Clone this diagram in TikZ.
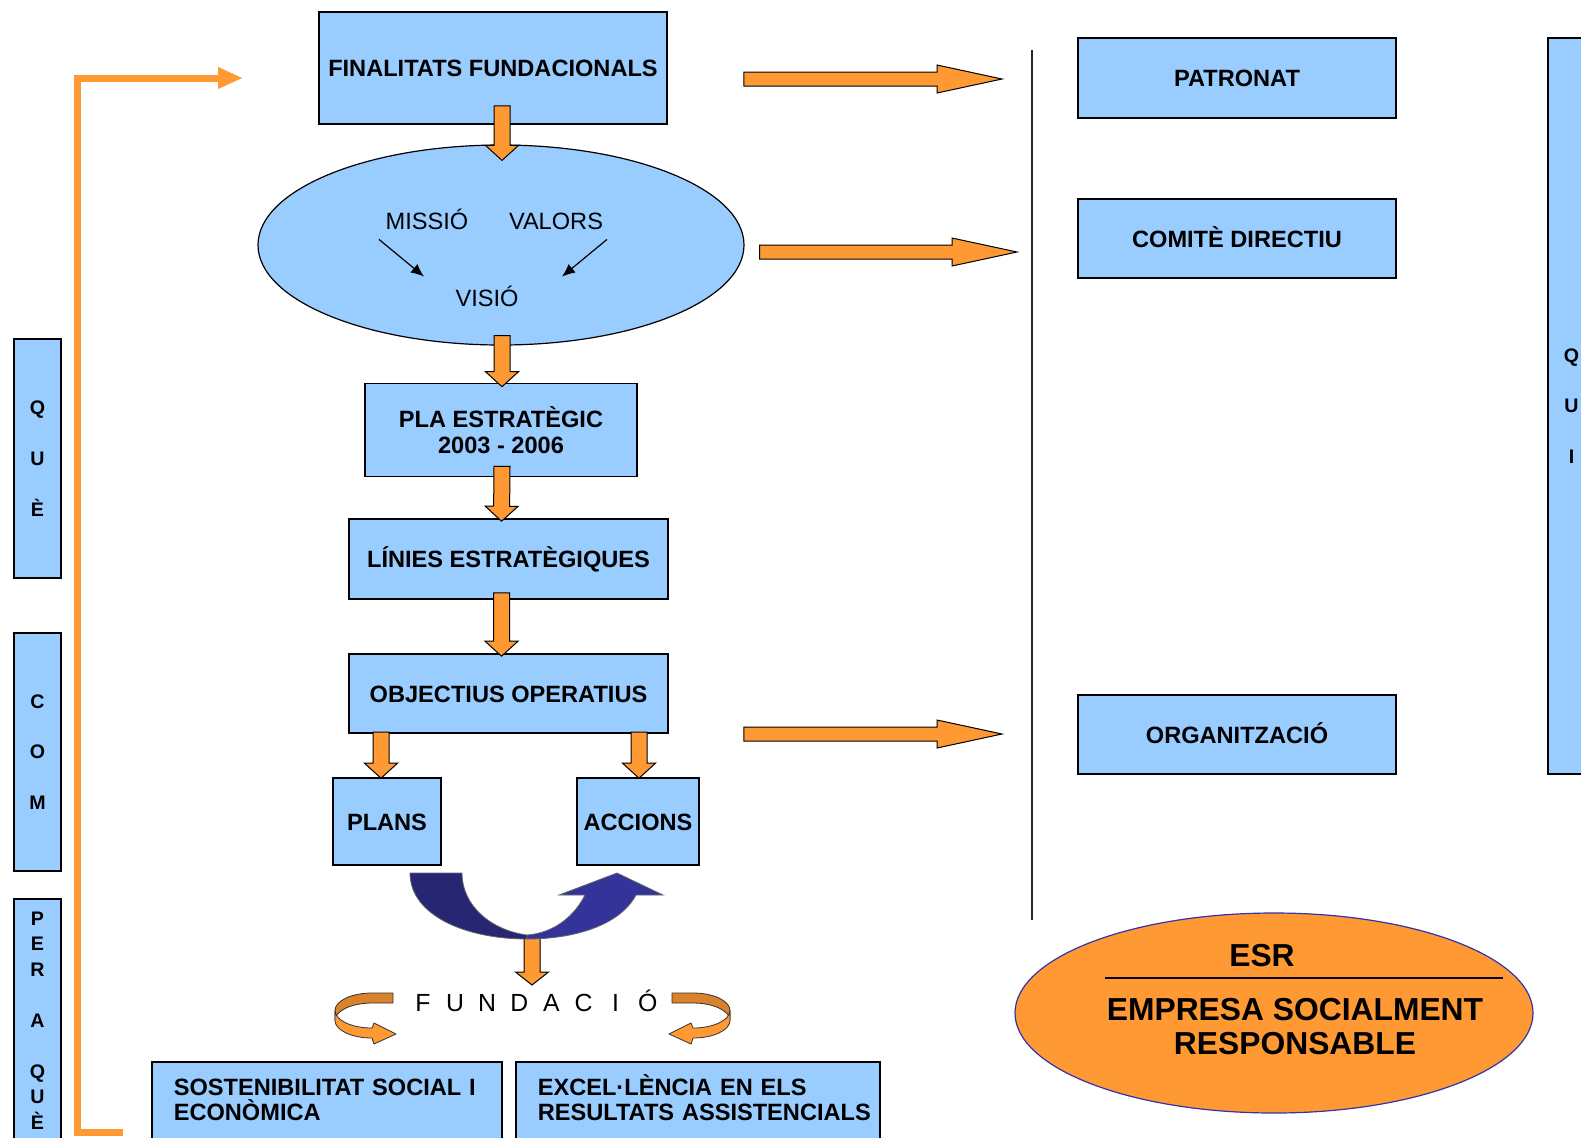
\documentclass[tikz,border=0pt]{standalone}
\usepackage{fontspec}
\setmainfont{Liberation Sans}
\usetikzlibrary{calc,shapes.geometric,arrows.meta}

\definecolor{boxblue}{HTML}{99CCFF}
\definecolor{orng}{HTML}{FF9933}
\definecolor{orngdark}{HTML}{D9822B}
\definecolor{navydark}{HTML}{262673}
\definecolor{navy}{HTML}{333399}
\definecolor{esrline}{HTML}{3333AA}

% fat orange arrow: shaft half width, head half width, head length, from, to
\newcommand{\blockarrow}[5]{%
  \path #4 coordinate (ba-s);
  \path #5 coordinate (ba-e);
  \path ($(ba-e)!#3!(ba-s)$) coordinate (ba-h);
  \filldraw[fill=orng,draw=black,line width=0.5pt,line join=miter]
    ($(ba-s)!#1!90:(ba-e)$) -- ($(ba-h)!#1!90:(ba-e)$) -- ($(ba-h)!#2!90:(ba-e)$)
    -- (ba-e) -- ($(ba-h)!#2!-90:(ba-e)$) -- ($(ba-h)!#1!-90:(ba-e)$)
    -- ($(ba-s)!#1!-90:(ba-e)$) -- cycle;
}

\begin{document}
\begin{tikzpicture}[x=0.5pt,y=-0.5pt,
  box/.style={draw,line width=0.8pt,fill=boxblue,inner sep=0pt,
    font=\bfseries\fontsize{11.8}{13}\selectfont},
  oneline/.style={text height=8.5pt,text depth=0pt},
  sidebox/.style={draw,line width=0.8pt,fill=boxblue,inner sep=0pt,
    minimum width=23.5pt,align=center,
    font=\bfseries\fontsize{9.8}{12.75}\selectfont},
  bottombox/.style={draw,line width=0.8pt,fill=boxblue,anchor=north west,
    inner xsep=11pt,inner ysep=0pt,align=left,minimum height=38.5pt,
    font=\bfseries\fontsize{11.8}{12.5}\selectfont},
  ovaltext/.style={inner sep=0pt,text height=8.5pt,text depth=0pt,
    font=\fontsize{11.8}{13}\selectfont},
  fundletter/.style={anchor=base,inner sep=0pt,font=\fontsize{12.4}{13}\selectfont},
  ring/.style={draw=black!80,line width=0.4pt,line join=round}]

  \useasboundingbox (0,0) rectangle (1581,1137);
  \clip (0,0) rectangle (1581,1137);

  % left column
  \node[box,oneline,minimum width=174pt,minimum height=56pt] (fin) at (493,68) {FINALITATS FUNDACIONALS};
  \node[draw,ellipse,line width=0.6pt,fill=boxblue,minimum width=243pt,minimum height=100pt] (vmv) at (501,245) {};
  \node[ovaltext] (missio) at (427,221) {MISSIÓ};
  \node[ovaltext] (valors) at (556,221) {VALORS};
  \node[ovaltext] (visio) at (487,298) {VISIÓ};
  \draw[->,>={Latex[length=6.5pt,width=5.5pt]},line width=0.6pt] ($(missio.south)+(-48,9.5)$) -- ($(visio.north)+(-63,-12.5)$);
  \draw[->,>={Latex[length=6.5pt,width=5.5pt]},line width=0.6pt] ($(valors.south)+(51,9.5)$) -- ($(visio.north)+(75,-12.5)$);
  \node[box,align=center,minimum width=136pt,minimum height=46.5pt] (pla) at (501,430) {PLA ESTRATÈGIC\\2003 - 2006};
  \node[box,oneline,minimum width=159.5pt,minimum height=40pt] (lin) at (508.5,559) {LÍNIES ESTRATÈGIQUES};
  \node[box,oneline,minimum width=159.5pt,minimum height=39.5pt] (obj) at (508.5,693.5) {OBJECTIUS OPERATIUS};
  \node[box,oneline,minimum width=54pt,minimum height=43.5pt] (plans) at (387,821.5) {PLANS};
  \node[box,oneline,minimum width=61pt,minimum height=43.5pt] (acc) at (638,821.5) {ACCIONS};

  % right column
  \node[box,oneline,minimum width=159pt,minimum height=40pt] (pat) at (1237,78) {PATRONAT};
  \node[box,oneline,minimum width=159pt,minimum height=39.5pt] (comite) at (1237,238.5) {COMITÈ DIRECTIU};
  \node[box,oneline,minimum width=159pt,minimum height=39.5pt] (org) at (1237,734.5) {ORGANITZACIÓ};

  % side labels
  \node[sidebox,minimum height=119.5pt] (que) at (37.5,458.5) {Q\\[12.6pt]U\\[12.6pt]È};
  \node[sidebox,minimum height=119pt] (com) at (37.5,752) {C\\[12.6pt]O\\[12.6pt]M};
  \node[sidebox,minimum height=121.5pt] (perque) at (37.5,1020.5) {P\\E\\R\\[12.75pt]A\\[12.75pt]Q\\U\\È};
  \node[sidebox,minimum height=368pt] (qui) at (1571.5,406) {Q\\[12.6pt]U\\[12.6pt]I};

  % bottom boxes
  \node[bottombox,text width=153pt] (sost) at (151,1061) {SOSTENIBILITAT SOCIAL I\\ECONÒMICA};
  \node[bottombox,text width=160pt] (excel) at (515,1061) {EXCEL·L\smash{È}NCIA EN ELS\\\mbox{RESULTATS ASSISTENCIALS}};

  % ESR
  \node[draw=esrline,line width=0.6pt,fill=orng,ellipse,minimum width=259pt,minimum height=100pt] (esr) at (1274,1013) {};
  \node[inner sep=0pt,text height=11.4pt,text depth=0pt,font=\bfseries\fontsize{15.9}{17}\selectfont] (esrtitle) at (1262,955) {ESR};
  \draw[line width=0.8pt] ($(esr.west)+(91,-35)$) -- ($(esr.east)+(-31,-35)$);
  \node[inner sep=0pt,align=center,font=\bfseries\fontsize{15.9}{17}\selectfont] (esrtext) at (1295,1027) {EMPRESA SOCIALMENT\\RESPONSABLE};

  % divider
  \coordinate (divtop) at (1032,50);
  \coordinate (divbot) at (1032,920);
  \draw[line width=1pt,black!85] (divtop) -- (divbot);

  % orange feedback line
  \coordinate (pqfoot) at (123,1132);
  \coordinate (finback) at (243,78);
  \draw[orng,line width=3.5pt,-{Triangle[length=12.5pt,width=10pt]}] (pqfoot) -- (77,1132) -- (77,78) -- (finback);

  % down arrows
  \blockarrow{4pt}{8.25pt}{7.5pt}{($(fin.south)+(9,-19)$)}{($(vmv.north)+(1,16)$)}
  \blockarrow{4pt}{8.25pt}{7.5pt}{($(vmv.south)+(1,-10)$)}{($(pla.north)+(1,4)$)}
  \blockarrow{4pt}{8.25pt}{7.5pt}{($(pla.south)+(1,-11)$)}{($(lin.north)+(-7,3)$)}
  \blockarrow{4pt}{8.25pt}{7.5pt}{($(lin.south)+(-7,-7)$)}{($(obj.north)+(-7,3)$)}
  \blockarrow{4pt}{8.25pt}{7.5pt}{($(plans.north)+(-6,-45)$)}{($(plans.north)+(-6,1)$)}
  \blockarrow{4pt}{8.25pt}{7.5pt}{($(acc.north)+(1,-45)$)}{($(acc.north)+(1,1)$)}

  % arrows to the right
  \coordinate (ra1) at (1002,79);
  \coordinate (ra2) at (1017,252);
  \coordinate (ra3) at (1002,734);
  \blockarrow{3.5pt}{7pt}{32.5pt}{($(fin.east)+(76,11)$)}{(ra1)}
  \blockarrow{3.5pt}{7pt}{32.5pt}{($(vmv.east)+(15,7)$)}{(ra2)}
  \blockarrow{3.5pt}{7pt}{32.5pt}{($(obj.east)+(75,40.5)$)}{(ra3)}

  % plans <-> accions
  \coordinate (ubot) at (532,938);
  \coordinate (fundtop) at (532,985);
  \blockarrow{4pt}{8.25pt}{6.5pt}{(ubot)}{(fundtop)}
  \filldraw[fill=navydark,draw=black!60,line width=0.4pt] (410,873) .. controls (410,915) and (465,939) .. (527,939)
    -- (527,935) .. controls (490,930) and (462,905) .. (462,873) -- cycle;
  \filldraw[fill=navy,draw=black!60,line width=0.4pt] (527,939) .. controls (575,939) and (620,925) .. (636,895)
    -- (663,895) -- (617,873) -- (559,895) -- (585,895) .. controls (575,915) and (555,933) .. (527,935) -- cycle;

  % FUNDACIO
  \foreach \ch [count=\i from 0] in {F,U,N,D,A,C,I,Ó}
    \node[fundletter] (fund\i) at (423+32.1*\i,1011) {\ch};

  \foreach \cx/\sx in {372/1,693/-1} {
  \begin{scope}[shift={(\cx,1010.5)},xscale=\sx]
    \filldraw[ring,fill=orngdark] (21,-17.5) -- (0,-17.5) arc[start angle=270,end angle=180,x radius=37,y radius=17.5]
      -- (-37,10) arc[start angle=180,end angle=270,x radius=37,y radius=17.5] -- (21,-7.5) -- cycle;
    \filldraw[ring,fill=orng] (-37,0) arc[start angle=180,end angle=90,x radius=37,y radius=17.5]
      -- (2,12.5) -- (24,23.5) -- (2,33.5) -- (0,27.5) arc[start angle=90,end angle=180,x radius=37,y radius=17.5] -- cycle;
  \end{scope}
  }

\end{tikzpicture}
\end{document}
